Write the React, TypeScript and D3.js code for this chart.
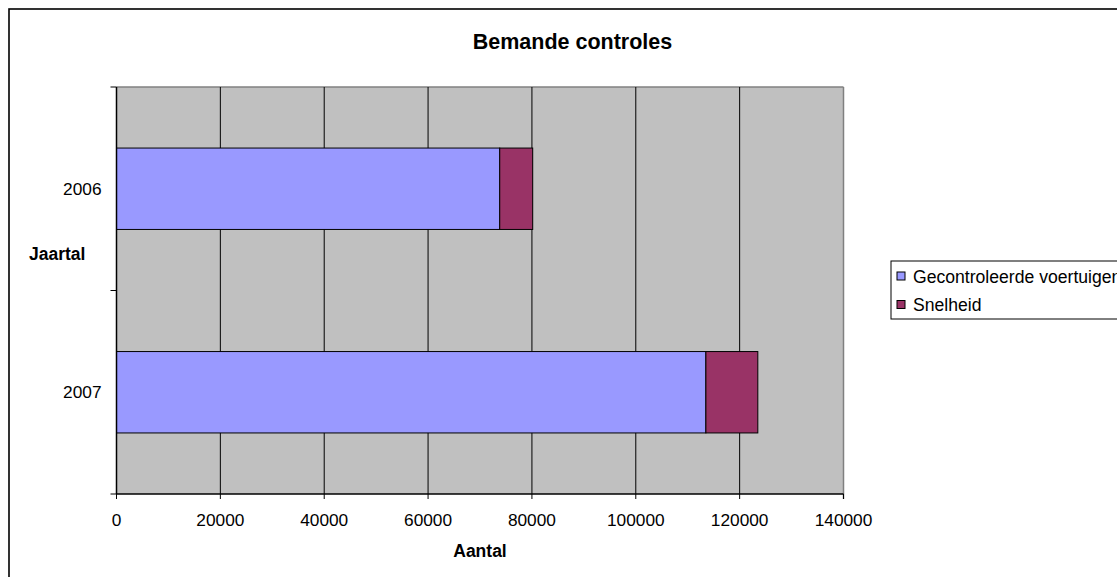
import React from "react";
import * as d3 from "d3";

const years = ["2006", "2007"];
const gecontroleerd = [73800, 113500];
const snelheid = [6350, 10000];
const seriesNames = ["Gecontroleerde voertuigen", "Snelheid"];
const seriesColors = ["#9999ff", "#993366"];
const xTicks = [0, 20000, 40000, 60000, 80000, 100000, 120000, 140000];

const W = 1117;
const H = 577;
const FONT = "'Liberation Sans', Arial, sans-serif";

export default function App() {
  const left = 116.5, right = 843.5, top = 87, bottom = 494;
  const x = d3.scaleLinear().domain([0, 140000]).range([left, right]);
  const y = d3.scaleBand<string>().domain(years).range([top, bottom]).paddingInner(0.6).paddingOuter(0.3);
  const stacked = years.map((yr, i) => [
    { s: 0, x0: 0, x1: gecontroleerd[i] },
    { s: 1, x0: gecontroleerd[i], x1: gecontroleerd[i] + snelheid[i] },
  ]);
  const yTicks = [top, (top + bottom) / 2, bottom];
  return (
    <svg width={W} height={H} style={{ position: "absolute", left: 0, top: 0, fontFamily: FONT }}>
      <rect x={0} y={0} width={W} height={H} fill="#fff" />
      <rect x={9} y={9} width={1200} height={700} fill="#fff" stroke="#000" strokeWidth={1.6} />
      <text x={572.5} y={48.5} textAnchor="middle" fontSize={21.5} fontWeight="bold">Bemande controles</text>
      {/* plot area */}
      <rect x={left} y={top} width={right - left} height={bottom - top} fill="#c0c0c0" />
      <line x1={left} x2={right} y1={top} y2={top} stroke="#808080" strokeWidth={1.5} />
      <line x1={right} x2={right} y1={top} y2={bottom + 5} stroke="#808080" strokeWidth={1.5} />
      {xTicks.slice(1, -1).map((t) => (
        <line key={t} x1={x(t)} x2={x(t)} y1={top} y2={bottom} stroke="#000" strokeWidth={1} />
      ))}
      {stacked.map((segs, i) =>
        segs.map((sg) => (
          <rect
            key={i + "-" + sg.s}
            x={x(sg.x0)}
            y={y(years[i])}
            width={x(sg.x1) - x(sg.x0)}
            height={y.bandwidth()}
            fill={seriesColors[sg.s]}
            stroke="#000"
            strokeWidth={1}
          />
        ))
      )}
      {/* axes */}
      <line x1={left} x2={left} y1={top} y2={bottom} stroke="#000" strokeWidth={1.5} />
      <line x1={left} x2={right} y1={bottom} y2={bottom} stroke="#000" strokeWidth={1.5} />
      {yTicks.map((t, i) => (
        <line key={i} x1={left - 6} x2={left} y1={t} y2={t} stroke="#000" strokeWidth={1} />
      ))}
      {xTicks.map((t) => (
        <g key={t}>
          <line x1={x(t)} x2={x(t)} y1={bottom} y2={bottom + 5} stroke="#000" strokeWidth={1} />
          <text x={x(t)} y={526} textAnchor="middle" fontSize={17.3}>{t}</text>
        </g>
      ))}
      {years.map((yr) => (
        <text key={yr} x={101.5} y={(y(yr) as number) + y.bandwidth() / 2 + 6} textAnchor="end" fontSize={17.3}>{yr}</text>
      ))}
      <text x={29} y={260} fontSize={17.5} fontWeight="bold">Jaartal</text>
      <text x={480} y={557} textAnchor="middle" fontSize={17.5} fontWeight="bold">Aantal</text>
      {/* legend */}
      <rect x={891} y={261} width={400} height={58} fill="#fff" stroke="#000" strokeWidth={1} />
      {seriesNames.map((n, i) => (
        <g key={n}>
          <rect x={897} y={272 + i * 28.5} width={8} height={8} fill={seriesColors[i]} stroke="#000" strokeWidth={1} />
          <text x={913} y={282.5 + i * 28.5} fontSize={17.6}>{n}</text>
        </g>
      ))}
    </svg>
  );
}
